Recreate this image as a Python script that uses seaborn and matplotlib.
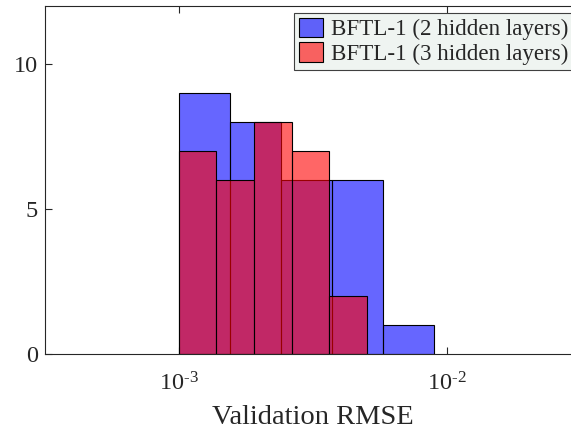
import numpy as np
import pandas as pd
import matplotlib
matplotlib.use('Agg')
import matplotlib.pyplot as plt
import seaborn as sns

# histogram data (bin edges on a log axis, counts per bin)
edges_2 = [0.00100, 0.00155, 0.00240, 0.00372, 0.00575, 0.00891]
counts_2 = [9, 8, 6, 6, 1]
edges_3 = [0.00100, 0.00138, 0.00191, 0.00263, 0.00363, 0.00501]
counts_3 = [7, 6, 8, 7, 2]
labels = ['BFTL-1 (2 hidden layers)', 'BFTL-1 (3 hidden layers)']
xtick_vals = [1e-3, 1e-2]
xtick_labels = ['$\\mathregular{10^{\u20103}}$', '$\\mathregular{10^{\u20102}}$']

sns.set_style('white')
plt.rcParams['font.family'] = ['Liberation Serif', 'DejaVu Serif']
plt.rcParams['mathtext.fontset'] = 'custom'
plt.rcParams['mathtext.rm'] = 'Liberation Serif'
plt.rcParams['mathtext.it'] = 'Liberation Serif:italic'
plt.rcParams['mathtext.bf'] = 'Liberation Serif:bold'

def centers(edges):
    e = np.log10(edges)
    return 10 ** ((e[:-1] + e[1:]) / 2)

df2 = pd.DataFrame({'rmse': centers(edges_2), 'n': counts_2})
df3 = pd.DataFrame({'rmse': centers(edges_3), 'n': counts_3})

fig = plt.figure(figsize=(5.71, 4.32), dpi=100)
ax = fig.add_axes([45 / 571, 1 - 354 / 432, (581 - 45) / 571, (354 - 6) / 432])

ink = '#262626'
specs = [(df2, edges_2, (0, 0, 1)), (df3, edges_3, (1, 0, 0))]
handles = []
for (df, edges, col), lab in zip(specs, labels):
    n_before = len(ax.patches)
    sns.histplot(data=df, x='rmse', weights='n', bins=edges, ax=ax,
                 stat='count', element='bars', fill=True)
    for p in ax.patches[n_before:]:
        p.set_alpha(None)
        p.set_facecolor((*col, 0.6))
        p.set_edgecolor('black')
        p.set_linewidth(0.8)
    handles.append(plt.Rectangle((0, 0), 1, 1, facecolor=(*col, 0.6),
                                 edgecolor='black', linewidth=0.8))

ax.set_xscale('log')
ax.set_xlim(10 ** -3.5, 10 ** -1.5)
ax.set_ylim(0, 12)
ax.set_xticks(xtick_vals)
ax.set_xticklabels(xtick_labels)
ax.xaxis.set_minor_locator(matplotlib.ticker.NullLocator())
ax.set_yticks([0, 5, 10])
ax.set_ylabel('')
ax.set_xlabel('Validation RMSE', fontsize=20.5, color=ink, labelpad=7)
ax.tick_params(axis='both', which='major', direction='in', length=5,
               width=0.8, colors=ink, labelsize=17.5, top=True, right=True,
               bottom=True, left=True)
ax.tick_params(axis='x', pad=13)
ax.tick_params(axis='y', pad=5)
for s in ax.spines.values():
    s.set_color(ink)
    s.set_linewidth(0.8)

leg = ax.legend(handles, labels, loc='upper left', bbox_to_anchor=(294 / 571, 1 - 13 / 432),
                bbox_transform=fig.transFigure, fontsize=16.6, frameon=True,
                fancybox=False, facecolor='#EFF4F1', edgecolor='#404040',
                framealpha=1, borderpad=0.2, labelspacing=0.08,
                handlelength=1.04, handleheight=0.95, handletextpad=0.35,
                borderaxespad=0)
leg.get_frame().set_linewidth(0.8)

fig.savefig('out.png', dpi=100)
